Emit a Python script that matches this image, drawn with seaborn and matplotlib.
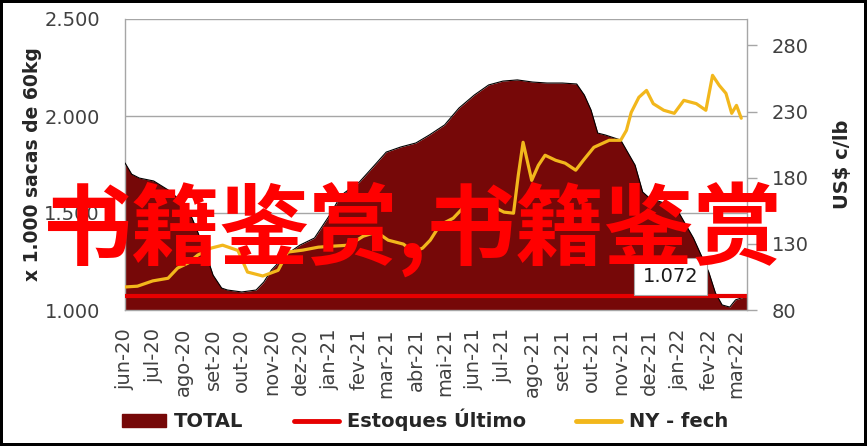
import matplotlib
matplotlib.use('Agg')
import matplotlib.pyplot as plt
from matplotlib.patches import Patch
from matplotlib.lines import Line2D
import pandas as pd
import seaborn as sns

# estoques totais (x 1.000 sacas de 60kg)
total_dates = ['2020-06-01', '2020-06-08', '2020-06-16', '2020-07-01', '2020-07-16', '2020-08-01',
               '2020-08-10', '2020-08-16', '2020-08-25', '2020-09-01', '2020-09-10', '2020-09-16',
               '2020-10-01', '2020-10-16', '2020-10-24', '2020-11-01', '2020-11-09', '2020-11-16',
               '2020-12-01', '2020-12-16', '2021-01-01', '2021-01-10', '2021-01-16', '2021-02-01',
               '2021-02-16', '2021-03-01', '2021-03-16', '2021-04-01', '2021-04-15', '2021-05-01',
               '2021-05-16', '2021-06-01', '2021-06-16', '2021-07-01', '2021-07-16', '2021-08-01',
               '2021-08-16', '2021-09-01', '2021-09-16', '2021-09-24', '2021-10-01', '2021-10-08',
               '2021-10-16', '2021-11-01', '2021-11-16', '2021-11-24', '2021-12-01', '2021-12-16',
               '2022-01-01', '2022-01-16', '2022-02-01', '2022-02-08', '2022-02-15', '2022-02-23',
               '2022-03-01', '2022-03-13']
total_values = [1.758, 1.700, 1.680, 1.665, 1.619, 1.552, 1.474, 1.402, 1.284, 1.180,
                1.113, 1.103, 1.093, 1.103, 1.144, 1.206, 1.247, 1.284, 1.335, 1.371,
                1.490, 1.567, 1.603, 1.660, 1.742, 1.814, 1.840, 1.861, 1.902, 1.954,
                2.041, 2.108, 2.160, 2.180, 2.186, 2.175, 2.170, 2.170, 2.165, 2.108,
                2.031, 1.912, 1.902, 1.876, 1.747, 1.608, 1.577, 1.552, 1.500, 1.371,
                1.196, 1.088, 1.026, 1.015, 1.052, 1.072]

# NY - fech (US$ c/lb)
ny_dates = ['2020-06-01', '2020-06-14', '2020-06-30', '2020-07-16', '2020-07-26', '2020-08-06',
            '2020-08-16', '2020-08-30', '2020-09-11', '2020-09-27', '2020-10-07', '2020-10-23',
            '2020-11-08', '2020-11-18', '2020-12-04', '2020-12-20', '2021-01-05', '2021-01-21',
            '2021-02-05', '2021-02-19', '2021-03-03', '2021-03-19', '2021-03-29', '2021-04-08',
            '2021-04-16', '2021-04-26', '2021-05-10', '2021-05-24', '2021-06-05', '2021-06-18',
            '2021-07-02', '2021-07-12', '2021-07-17', '2021-07-22', '2021-07-31', '2021-08-07',
            '2021-08-14', '2021-08-25', '2021-09-04', '2021-09-15', '2021-09-23', '2021-10-04',
            '2021-10-20', '2021-11-01', '2021-11-07', '2021-11-12', '2021-11-20', '2021-11-28',
            '2021-12-05', '2021-12-16', '2021-12-27', '2022-01-06', '2022-01-19', '2022-01-29',
            '2022-02-05', '2022-02-12', '2022-02-19', '2022-02-25', '2022-03-02', '2022-03-07']
ny_values = [97.4, 98.0, 102.0, 104.0, 111.7, 115.5, 121.5, 126.8, 129.0, 125.0,
             108.7, 105.7, 110.0, 123.8, 125.3, 127.5, 128.3, 129.0, 135.8, 138.9,
             132.8, 129.8, 123.8, 126.8, 132.8, 144.2, 149.4, 160.0, 163.0, 159.2,
             154.0, 153.2, 181.9, 206.8, 178.0, 189.4, 197.0, 193.2, 191.0, 185.7,
             193.2, 203.0, 208.3, 208.3, 215.8, 229.4, 240.8, 246.0, 236.0, 231.0,
             228.7, 238.5, 236.0, 231.0, 257.4, 249.8, 243.8, 228.7, 234.7, 225.0]

month_labels = ['jun-20', 'jul-20', 'ago-20', 'set-20', 'out-20', 'nov-20', 'dez-20',
                'jan-21', 'fev-21', 'mar-21', 'abr-21', 'mai-21', 'jun-21', 'jul-21',
                'ago-21', 'set-21', 'out-21', 'nov-21', 'dez-21', 'jan-22', 'fev-22', 'mar-22']
left_ticks = [1.0, 1.5, 2.0, 2.5]
left_labels = ['1.000', '1.500', '2.000', '2.500']
right_ticks = [80, 130, 180, 230, 280]

maroon = '#760808'
red = '#E60000'
gold = '#F2B71C'
grey = '#A6A6A6'
tick_col = '#404040'

sns.set_style('white')
plt.rcParams['font.family'] = ['DejaVu Sans']

total = pd.DataFrame({'date': pd.to_datetime(total_dates), 'total': total_values})
ny = pd.DataFrame({'date': pd.to_datetime(ny_dates), 'ny': ny_values})
estoque = total_values[-1]
ultimo = pd.DataFrame({'date': total['date'].iloc[[0, -1]], 'v': [estoque, estoque]})

fig = plt.figure(figsize=(8.67, 4.46), dpi=100, linewidth=3, edgecolor='black')
ax = fig.add_axes([125 / 867, 136 / 446, 622 / 867, 291 / 446])

ax.fill_between(total['date'], total['total'], 0, color=maroon, lw=0, zorder=2)
sns.lineplot(data=total, x='date', y='total', ax=ax, color='black', lw=0.8, zorder=3, legend=False)
sns.lineplot(data=ultimo, x='date', y='v', ax=ax, color=red, lw=3, zorder=4, legend=False)

ax.set_xlim(total['date'].iloc[0], total['date'].iloc[-1])
ax.set_ylim(1.0, 2.5)
ax.set_yticks(left_ticks)
ax.set_yticklabels(left_labels)
ax.set_xticks(pd.date_range('2020-06-01', '2022-03-01', freq='MS'))
ax.set_xticklabels(month_labels, rotation=90)
ax.tick_params(axis='x', length=0, pad=13, labelsize=14, labelcolor=tick_col)
ax.tick_params(axis='y', length=0, pad=18, labelsize=14, labelcolor=tick_col)
ax.set_axisbelow(True)
ax.yaxis.grid(True, color=grey, lw=1)
ax.xaxis.grid(False)
for s in ['top', 'right']:
    ax.spines[s].set_visible(False)
for s in ['left', 'bottom']:
    ax.spines[s].set_color(grey)
    ax.spines[s].set_linewidth(1)
ax.set_xlabel('')
ax.set_ylabel('x 1.000 sacas de 60kg', fontsize=13.5, fontweight='bold', color='#262626',
              va='center', ha='center')
ax.yaxis.set_label_coords(-0.148, 0.5)

ax.annotate(f'{estoque:.3f}', xy=(total['date'].iloc[-1], estoque), xytext=(-55, 14),
            textcoords='offset points', ha='center', va='center', fontsize=14, color='#1a1a1a',
            bbox=dict(boxstyle='square,pad=0.45', fc='white', ec=grey, lw=0.8), zorder=6)

ax2 = ax.twinx()
sns.lineplot(data=ny, x='date', y='ny', ax=ax2, color=gold, lw=2.3, legend=False)
ax2.set_ylim(80, 300)
ax2.set_yticks(right_ticks)
ax2.tick_params(axis='y', length=7, width=1, color=grey, pad=11, labelsize=14, labelcolor=tick_col)
for s in ['top', 'left', 'bottom']:
    ax2.spines[s].set_visible(False)
ax2.spines['right'].set_color(grey)
ax2.spines['right'].set_linewidth(1)
ax2.grid(False)
ax2.set_xlabel('')
ax2.set_ylabel('US$ c/lb', fontsize=14, fontweight='bold', color='#262626', rotation=90,
               va='center', ha='center')
ax2.yaxis.set_label_coords(1.154, 0.5)

handles = [Patch(facecolor=maroon, edgecolor=maroon),
           Line2D([0], [0], color=red, lw=3.5),
           Line2D([0], [0], color=gold, lw=3.5)]
fig.legend(handles, ['TOTAL', 'Estoques Último', 'NY - fech'], loc='center',
           bbox_to_anchor=(0.49, 0.058), ncol=3, frameon=False,
           prop={'weight': 'bold', 'size': 14}, handlelength=2.3, handletextpad=0.4,
           columnspacing=2.6, labelcolor='#262626')

fig.text(0.476, 0.487, '书籍鉴赏,书籍鉴赏', fontsize=64, color='#FF0000', fontweight='bold',
         family=['Noto Sans CJK SC', 'DejaVu Sans'], ha='center', va='center')

fig.savefig('out.png', dpi=100)
